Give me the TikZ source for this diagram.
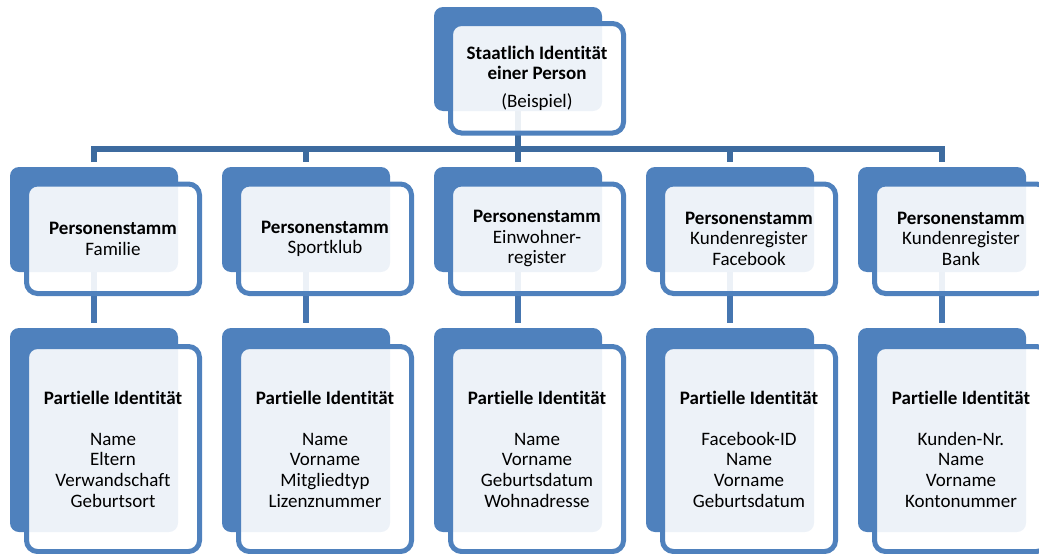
\documentclass[tikz,border=0pt]{standalone}
\usepackage{fontspec}
\setmainfont{Carlito}[Ligatures=NoCommon]
\pgfdeclarelayer{background}
\pgfsetlayers{background,main}
\definecolor{accent}{HTML}{4F81BD}
\definecolor{busline}{HTML}{3D6B9F}
\definecolor{subline}{HTML}{4676B0}
\tikzset{
  backbox/.style={rectangle, rounded corners=9pt, fill=accent, inner sep=0pt,
    outer sep=0pt, minimum width=168pt},
  frontbox/.style={rectangle, rounded corners=11pt, fill=white, fill opacity=0.9,
    text opacity=1, draw=accent, line width=5pt, inner sep=0pt, outer sep=0pt,
    minimum width=173pt, align=center, text=black,
    font=\fontsize{19}{20.6}\selectfont},
  bus/.style={draw=busline, line width=5.5pt},
  subconn/.style={draw=subline, line width=5.5pt},
}
\begin{document}
\begin{tikzpicture}[x=1pt, y=-1pt]
\useasboundingbox (0,0) rectangle (1039,554);
\clip (0,0) rectangle (1039,554);

% top level
\node[backbox, minimum height=104pt] (b0) at (518,59) {};
\node[frontbox, minimum height=109.5pt] (f0) at (537,78.25)
  {\textbf{Staatlich Identität}\\\textbf{einer Person}\\[7pt](Beispiel)};

% record holders
\node[backbox, minimum height=105pt] (b1) at (94,219.5) {};
\node[frontbox, minimum height=109.5pt] (f1) at (113,238.75)
  {\textbf{Personenstamm}\\Familie};
\node[backbox, minimum height=105pt] (b2) at (306,219.5) {};
\node[frontbox, minimum height=109.5pt] (f2) at (325,238.75)
  {\textbf{Personenstamm}\\Sportklub};
\node[backbox, minimum height=105pt] (b3) at (518,219.5) {};
\node[frontbox, minimum height=109.5pt] (f3) at (537,238.75)
  {\textbf{Personenstamm}\\Einwohner-\\register};
\node[backbox, minimum height=105pt] (b4) at (730,219.5) {};
\node[frontbox, minimum height=109.5pt] (f4) at (749,238.75)
  {\textbf{Personenstamm}\\Kundenregister\\Facebook};
\node[backbox, minimum height=105pt] (b5) at (942,219.5) {};
\node[frontbox, minimum height=109.5pt] (f5) at (961,238.75)
  {\textbf{Personenstamm}\\Kundenregister\\Bank};

% partial identities
\node[backbox, minimum height=204pt] (c1) at (94,430) {};
\node[frontbox, minimum height=205pt] (g1) at (113,449)
  {\textbf{Partielle Identität}\\[20.6pt]Name\\Eltern\\Verwandschaft\\Geburtsort};
\node[backbox, minimum height=204pt] (c2) at (306,430) {};
\node[frontbox, minimum height=205pt] (g2) at (325,449)
  {\textbf{Partielle Identität}\\[20.6pt]Name\\Vorname\\Mitgliedtyp\\Lizenznummer};
\node[backbox, minimum height=204pt] (c3) at (518,430) {};
\node[frontbox, minimum height=205pt] (g3) at (537,449)
  {\textbf{Partielle Identität}\\[20.6pt]Name\\Vorname\\Geburtsdatum\\Wohnadresse};
\node[backbox, minimum height=204pt] (c4) at (730,430) {};
\node[frontbox, minimum height=205pt] (g4) at (749,449)
  {\textbf{Partielle Identität}\\[20.6pt]Facebook-ID\\Name\\Vorname\\Geburtsdatum};
\node[backbox, minimum height=204pt] (c5) at (942,430) {};
\node[frontbox, minimum height=205pt] (g5) at (961,449)
  {\textbf{Partielle Identität}\\[20.6pt]Kunden-Nr.\\Name\\Vorname\\Kontonummer};

% connectors, drawn behind the boxes
\coordinate (busy) at (0,149);
\begin{pgfonlayer}{background}
  \draw[bus] (b0.center) -- (b0.center |- busy);
  \draw[bus] ([yshift=5pt]b1.north) -- (b1.center |- busy)
    -- (b5.center |- busy) -- ([yshift=5pt]b5.north);
  \foreach \n in {2,3,4}
    \draw[bus] (b\n.center |- busy) -- ([yshift=5pt]b\n.north);
  \foreach \n in {1,...,5}
    \draw[subconn] (b\n.center) -- ([yshift=5pt]c\n.north);
\end{pgfonlayer}
\end{tikzpicture}
\end{document}
